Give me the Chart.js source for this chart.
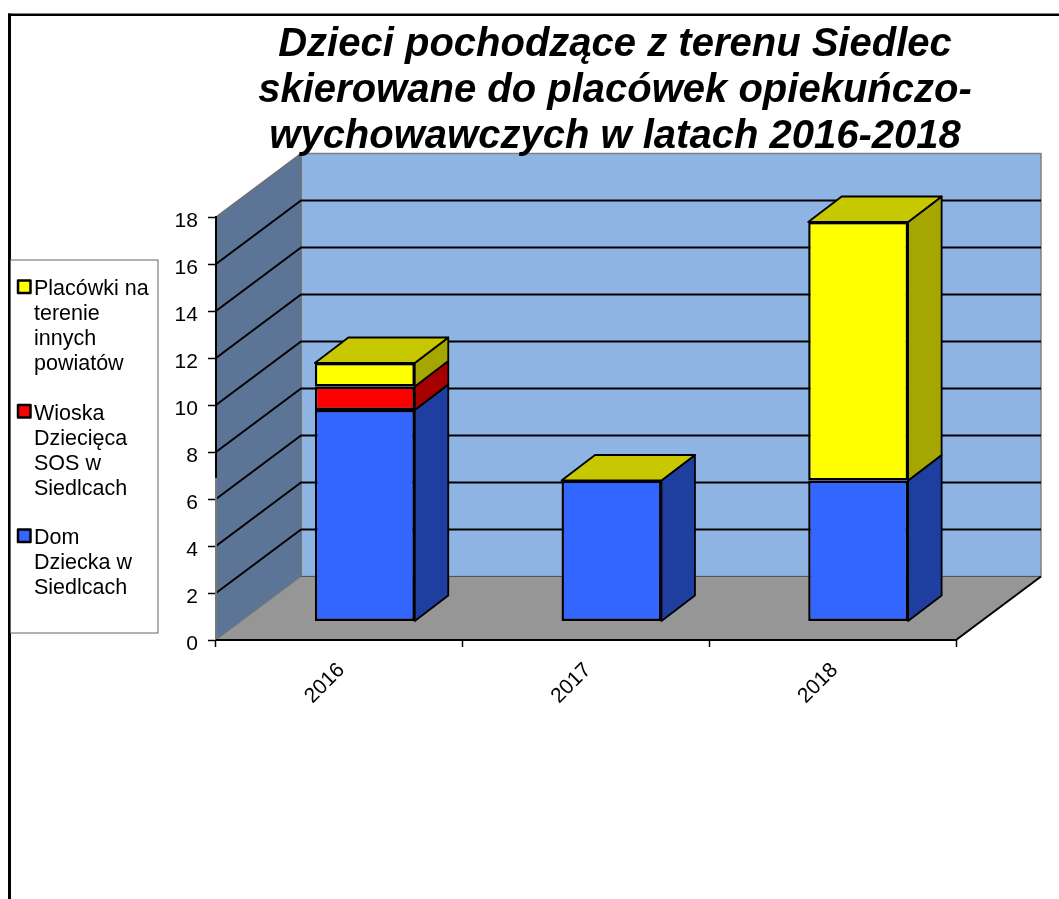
<!DOCTYPE html>
<html><head><meta charset="utf-8">
<style>html,body{margin:0;padding:0;background:#fff}canvas{display:block}</style>
<script src="https://cdn.jsdelivr.net/npm/chart.js@4/dist/chart.umd.js"></script>
</head><body>
<canvas id="c" width="1059" height="899"></canvas>
<script>
const years = ['2016','2017','2018'];
const domDziecka = [9, 6, 6];
const wioskaSOS = [1, 0, 0];
const innePowiaty = [1, 0, 11];
const titleLines = ['Dzieci pochodzące z terenu Siedlec','skierowane do placówek opiekuńczo-','wychowawczych w latach 2016-2018'];
const legendDom = ['Dom','Dziecka w','Siedlcach'];
const legendSOS = ['Wioska','Dziecięca','SOS w','Siedlcach'];
const legendInne = ['Placówki na','terenie','innych','powiatów'];

const FONT = '"Liberation Sans", Arial, sans-serif';
const WALL = {dx: 85, dy: 63.5};
const BAR_SHIFT = {dx: 25.5, dy: 18.5};
const BAR_DEPTH = {dx: 33.5, dy: 25.5};
const sideColors = ['#1F3FA0', '#A60000', '#A6A600'];
const topColor = '#C8C800';

function poly(ctx, pts, fill, stroke, lw) {
  ctx.beginPath();
  pts.forEach((p, i) => i ? ctx.lineTo(p[0], p[1]) : ctx.moveTo(p[0], p[1]));
  ctx.closePath();
  if (fill) { ctx.fillStyle = fill; ctx.fill(); }
  if (stroke) { ctx.strokeStyle = stroke; ctx.lineWidth = lw; ctx.lineJoin = 'round'; ctx.stroke(); }
}
function line(ctx, pts, color, lw) {
  ctx.beginPath();
  pts.forEach((p, i) => i ? ctx.lineTo(p[0], p[1]) : ctx.moveTo(p[0], p[1]));
  ctx.strokeStyle = color; ctx.lineWidth = lw; ctx.stroke();
}

const scene3d = {
  id: 'scene3d',
  afterLayout(chart) {
    chart.titleBlock.left = 171; chart.titleBlock.right = 1059;
    const l = chart.legend;
    l.left = -9.25; l.right = 152; l.top = 254; l.bottom = 899;
  },
  beforeDraw(chart) {
    const {ctx, chartArea: a, scales: {y}} = chart;
    ctx.save();
    // slide frame
    ctx.fillStyle = '#000';
    ctx.fillRect(8, 13.5, 1051, 2.5);
    ctx.fillRect(8, 13.5, 3, 886);
    // legend box
    ctx.fillStyle = '#fff'; ctx.strokeStyle = '#666'; ctx.lineWidth = 1;
    ctx.fillRect(11, 260, 147, 373);
    ctx.strokeRect(10.5, 260, 147.5, 373);
    // walls
    const bx = a.left + WALL.dx, by = a.top - WALL.dy, bb = a.bottom - WALL.dy, br = a.right + WALL.dx;
    poly(ctx, [[bx, by], [br, by], [br, bb], [bx, bb]], '#8EB4E3', '#808080', 1.5);
    poly(ctx, [[a.left, a.top], [bx, by], [bx, bb], [a.left, a.bottom]], '#5C7596', '#6e6e6e', 1.5);
    poly(ctx, [[a.left, a.bottom], [bx, bb], [br, bb], [a.right, a.bottom]], '#969696', null, 0);
    line(ctx, [[bx, bb], [br, bb]], '#555', 1);
    line(ctx, [[a.left, a.bottom], [bx, bb]], '#777', 1);
    line(ctx, [[a.right, a.bottom], [br, bb]], '#000', 2);
    // grid lines along side wall and back wall
    y.ticks.forEach(t => {
      if (t.value <= y.min || t.value >= y.max) return;
      const p = y.getPixelForValue(t.value);
      line(ctx, [[a.left, p], [bx, p - WALL.dy], [br, p - WALL.dy]], '#000', 2);
    });
    ctx.restore();
  },
  beforeDatasetsDraw(chart) {
    const {ctx, chartArea: a, scales: {y}} = chart;
    // lower part of the value axis fades to grey
    line(ctx, [[a.left, y.getPixelForValue(6.9)], [a.left, a.bottom]], '#777', 2);
    line(ctx, [[a.left, a.bottom], [a.right, a.bottom]], '#000', 2);
    ctx.save();
    ctx.translate(BAR_SHIFT.dx, -BAR_SHIFT.dy);
  },
  afterDatasetsDraw(chart) {
    const {ctx} = chart;
    ctx.restore();
    const d = BAR_DEPTH, sx = BAR_SHIFT.dx, sy = BAR_SHIFT.dy;
    const n = chart.data.datasets.length;
    chart.data.datasets.forEach((ds, i) => {
      chart.getDatasetMeta(i).data.forEach((el, j) => {
        const r = el.x + el.width / 2 + sx, l = el.x - el.width / 2 + sx;
        const t = el.y - sy, b = el.base - sy;
        if (ds.data[j] > 0) {
          poly(ctx, [[r, b], [r + d.dx, b - d.dy], [r + d.dx, t - d.dy], [r, t]], sideColors[i], '#000', 1.8);
        }
        if (i === n - 1) {
          poly(ctx, [[l, t], [l + d.dx, t - d.dy], [r + d.dx, t - d.dy], [r, t]], topColor, '#000', 1.8);
        }
      });
    });
  },
  afterDraw(chart) {
    // legend colour keys, aligned to the first line of each label
    const {ctx, legend} = chart;
    ctx.save();
    legend.legendItems.forEach((it, i) => {
      const h = legend.legendHitBoxes[i];
      const x = h.left + 2.75, y0 = h.top + 2;
      ctx.fillStyle = it.keyColor; ctx.strokeStyle = '#000'; ctx.lineWidth = 2.5;
      ctx.fillRect(x, y0, 12.5, 12.5); ctx.strokeRect(x, y0, 12.5, 12.5);
    });
    ctx.restore();
  }
};

const labelMap = {0: legendDom, 1: legendSOS, 2: legendInne};
new Chart(document.getElementById('c'), {
  type: 'bar',
  plugins: [scene3d],
  data: {
    labels: years,
    datasets: [
      {label: 'Dom Dziecka w Siedlcach', data: domDziecka, backgroundColor: '#3366FF'},
      {label: 'Wioska Dziecięca SOS w Siedlcach', data: wioskaSOS, backgroundColor: '#FF0000'},
      {label: 'Placówki na terenie innych powiatów', data: innePowiaty, backgroundColor: '#FFFF00'}
    ].map(d => Object.assign(d, {borderColor: '#000', borderWidth: 2.4, borderSkipped: false, categoryPercentage: 1, barPercentage: 0.405}))
  },
  options: {
    responsive: false,
    animation: false,
    layout: {padding: {left: 0, right: 103, top: 22, bottom: 179}},
    scales: {
      x: {
        stacked: true,
        afterFit(s) { s.height = 80; },
        border: {display: false},
        grid: {drawOnChartArea: false, drawTicks: true, tickLength: 7, tickColor: '#000', tickWidth: 1.5, offset: true},
        ticks: {color: '#000', font: {family: FONT, size: 21}, maxRotation: 45, minRotation: 45, autoSkip: false, padding: 11, labelOffset: 2}
      },
      y: {
        stacked: true, min: 0, max: 18,
        afterFit(s) { s.width = 48; },
        border: {display: true, color: '#000', width: 2},
        grid: {drawOnChartArea: false, drawTicks: true, tickLength: 8, tickColor: '#000', tickWidth: 1.5},
        ticks: {color: '#000', stepSize: 2, font: {family: FONT, size: 21}, padding: 10, labelOffset: 4.5}
      }
    },
    plugins: {
      tooltip: {enabled: false},
      title: {
        display: true, text: titleLines, color: '#000',
        font: {family: FONT, size: 40, weight: 'bold', style: 'italic', lineHeight: 1.15},
        padding: {top: 0, bottom: 57}
      },
      legend: {
        display: true, position: 'left', align: 'start', reverse: true,
        labels: {
          font: {family: FONT, size: 21.5, lineHeight: 25 / 21.5}, color: '#000',
          boxWidth: 8, boxHeight: 0, padding: 24.5,
          generateLabels(chart) {
            return chart.data.datasets.map((ds, i) => ({
              text: labelMap[i], datasetIndex: i, keyColor: ds.backgroundColor,
              fillStyle: 'rgba(0,0,0,0)', strokeStyle: 'rgba(0,0,0,0)', lineWidth: 0, fontColor: '#000'
            }));
          }
        }
      }
    }
  }
});
</script>
</body></html>
